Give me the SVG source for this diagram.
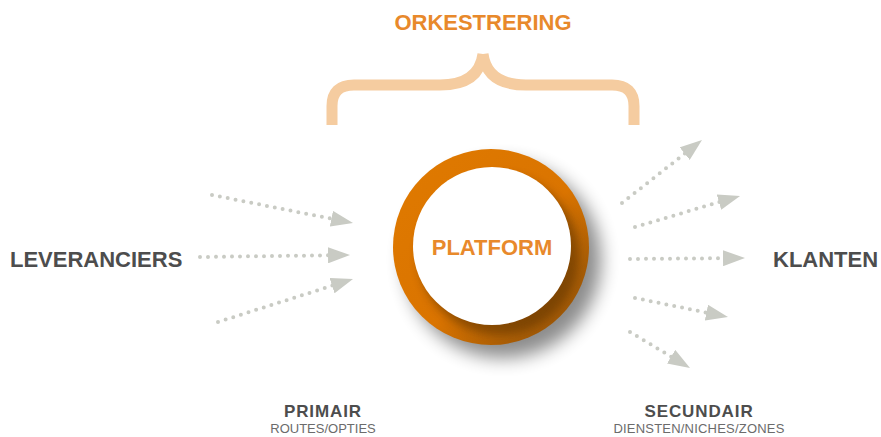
<svg xmlns="http://www.w3.org/2000/svg" width="881" height="437" viewBox="0 0 881 437">
  <style>
    .lbl { font-family: "Liberation Sans", Arial, sans-serif; font-weight: bold; }
    .dark { fill: #4d4d4d; }
    .orange { fill: #e8892b; }
    .sub { font-family: "Liberation Sans", Arial, sans-serif; font-size: 13px; fill: #6b6b6b; }
    .arrow { fill: none; stroke: #c9cbc4; stroke-width: 4; stroke-linecap: round; stroke-dasharray: 0 8; marker-end: url(#head); }
  </style>
  <defs>
    <marker id="head" viewBox="0 0 22 16" refX="1" refY="8" markerWidth="22" markerHeight="16" markerUnits="userSpaceOnUse" orient="auto">
      <path d="M0,0 L22,8 L0,16 Z" fill="#c9cbc4"/>
    </marker>
    <linearGradient id="ringGrad" x1="0" y1="0" x2="1" y2="1">
      <stop offset="0" stop-color="#e07a00"/>
      <stop offset="0.55" stop-color="#da7400"/>
      <stop offset="0.8" stop-color="#a85d06"/>
      <stop offset="1" stop-color="#8f4f08"/>
    </linearGradient>
    <filter id="soft" x="-50%" y="-50%" width="200%" height="200%">
      <feGaussianBlur stdDeviation="9"/>
    </filter>
    <filter id="innerShadow" x="-50%" y="-50%" width="200%" height="200%">
      <feGaussianBlur stdDeviation="5"/>
    </filter>
    <clipPath id="ringClip">
      <circle cx="491" cy="247" r="98"/>
    </clipPath>
  </defs>

  <g id="orkestrering">
    <text class="lbl orange" x="483" y="30" font-size="22" text-anchor="middle">ORKESTRERING</text>
    <path d="M332,125 V106 Q332,85 354,85 H440 Q479,85 483,54 M634,125 V106 Q634,85 612,85 H526 Q487,85 483,54" fill="none" stroke="#f5cca0" stroke-width="11"/>
  </g>

  <g id="platform">
    <circle cx="503" cy="260" r="98" fill="#000" opacity="0.45" filter="url(#soft)"/>
    <circle cx="491" cy="247" r="98" fill="url(#ringGrad)"/>
    <g clip-path="url(#ringClip)">
      <circle cx="499" cy="255" r="80" fill="#5a3000" opacity="0.55" filter="url(#innerShadow)"/>
    </g>
    <circle cx="492" cy="246" r="79" fill="#ffffff"/>
    <text class="lbl orange" x="492" y="255" font-size="22" text-anchor="middle">PLATFORM</text>
  </g>

  <g id="leveranciers">
    <text class="lbl dark" x="10" y="267" font-size="22">LEVERANCIERS</text>
  </g>

  <g id="klanten">
    <text class="lbl dark" x="773" y="267" font-size="22">KLANTEN</text>
  </g>

  <g id="primair">
    <text class="lbl dark" x="323" y="417" font-size="17" letter-spacing="0.9" text-anchor="middle">PRIMAIR</text>
    <text class="sub" x="323" y="433" text-anchor="middle">ROUTES/OPTIES</text>
  </g>

  <g id="secundair">
    <text class="lbl dark" x="699" y="417" font-size="17" letter-spacing="0.9" text-anchor="middle">SECUNDAIR</text>
    <text class="sub" x="699" y="433" text-anchor="middle" letter-spacing="0.2">DIENSTEN/NICHES/ZONES</text>
  </g>

  <g id="connectors">
    <path class="arrow" d="M212,195 L332.4,218.9"/>
    <path class="arrow" d="M200,257 L329,255.3"/>
    <path class="arrow" d="M218,322 L333,285.4"/>
    <path class="arrow" d="M622,203 L685.5,153"/>
    <path class="arrow" d="M635,227 L719.9,201.9"/>
    <path class="arrow" d="M630,259 L724,258.2"/>
    <path class="arrow" d="M635,298 L707.4,312.8"/>
    <path class="arrow" d="M630,332 L672,357.2"/>
  </g>
</svg>
